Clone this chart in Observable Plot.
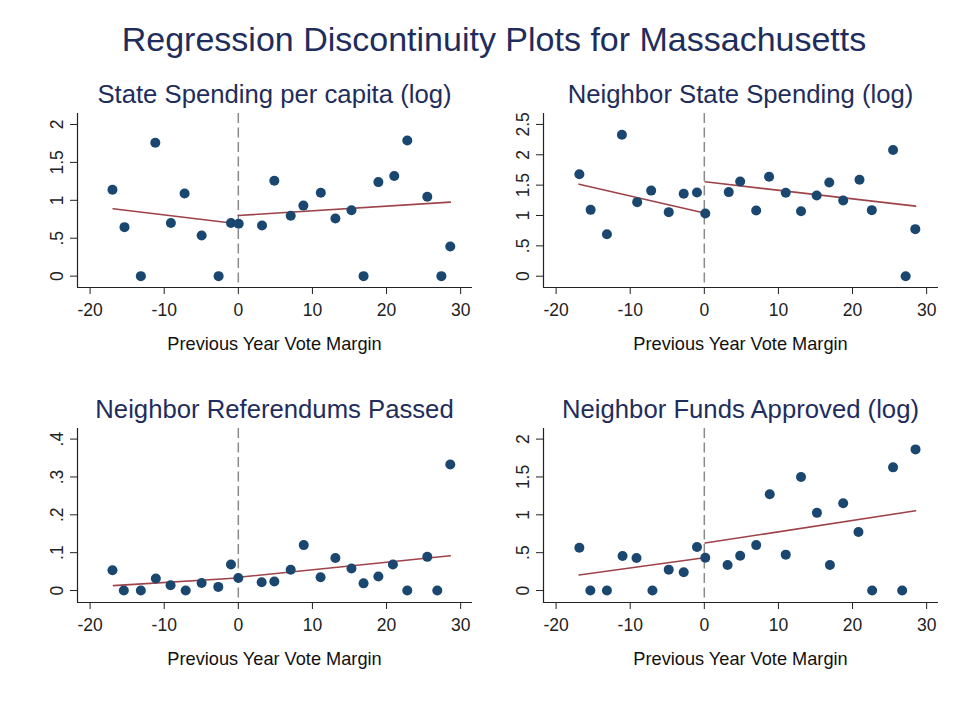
<!DOCTYPE html>
<html>
<head>
<meta charset="utf-8">
<script src="https://cdn.jsdelivr.net/npm/d3@7"></script>
<script src="https://cdn.jsdelivr.net/npm/@observablehq/plot@0.6"></script>
<style>
  html, body { margin: 0; padding: 0; background: #fff; }
  #wrap { position: relative; width: 964px; height: 704px; background: #fff; font-family: "Liberation Sans", Arial, sans-serif; }
  .txt { position: absolute; white-space: nowrap; text-align: center; line-height: 1; color: #1f2d5c; }
  .xl { color: #111; }
  .panel { position: absolute; }
</style>
</head>
<body>
<div id="wrap"></div>
<script>
// ---------- data ----------
const mainTitle = "Regression Discontinuity Plots for Massachusetts";
const xLabel = "Previous Year Vote Margin";
const xTicks = [-20, -10, 0, 10, 20, 30];

// Panel 1: State Spending per capita (log)
const p1Title = "State Spending per capita (log)";
const p1X = [-16.98, -15.36, -13.15, -11.2, -9.1, -7.25, -4.95, -2.66, -0.99, 0.05, 3.2, 4.86, 7.07, 8.78, 11.13, 13.1, 15.27, 16.9, 18.9, 21.04, 22.8, 25.5, 27.4, 28.6];
const p1Y = [1.14, 0.646, 0, 1.76, 0.70, 1.09, 0.536, 0, 0.70, 0.69, 0.668, 1.257, 0.796, 0.93, 1.10, 0.76, 0.87, 0, 1.24, 1.32, 1.79, 1.046, 0, 0.39];
const p1FitLeft = [[-16.9, 0.888], [-0.1, 0.69]];
const p1FitRight = [[0, 0.80], [28.6, 0.976]];
const p1YTicks = [0, 0.5, 1, 1.5, 2];
const p1YDomain = [-0.15, 2.145];

// Panel 2: Neighbor State Spending (log)
const p2Title = "Neighbor State Spending (log)";
const p2X = [-16.86, -15.34, -13.14, -11.12, -9.06, -7.17, -4.8, -2.78, -0.99, 0.13, 3.3, 4.84, 7.0, 8.74, 10.99, 13.05, 15.16, 16.86, 18.74, 20.94, 22.6, 25.47, 27.17, 28.47];
const p2Y = [1.68, 1.093, 0.692, 2.33, 1.22, 1.41, 1.055, 1.357, 1.38, 1.033, 1.385, 1.56, 1.082, 1.637, 1.374, 1.07, 1.33, 1.544, 1.247, 1.588, 1.088, 2.08, 0, 0.775];
const p2FitLeft = [[-16.9, 1.516], [0, 1.04]];
const p2FitRight = [[0.1, 1.555], [28.5, 1.154]];
const p2YTicks = [0, 0.5, 1, 1.5, 2, 2.5];
const p2YDomain = [-0.186, 2.68];

// Panel 3: Neighbor Referendums Passed
const p3Title = "Neighbor Referendums Passed";
const p3X = [-16.98, -15.45, -13.15, -11.13, -9.14, -7.1, -4.95, -2.7, -0.99, 0, 3.15, 4.86, 7.07, 8.83, 11.1, 13.1, 15.27, 16.9, 18.9, 20.86, 22.8, 25.5, 26.85, 28.6];
const p3Y = [0.0535, 0, 0, 0.0316, 0.014, 0, 0.020, 0.0096, 0.069, 0.033, 0.022, 0.024, 0.055, 0.120, 0.035, 0.086, 0.058, 0.019, 0.037, 0.069, 0, 0.089, 0, 0.333];
const p3FitLeft = [[-16.85, 0.013], [-0.1, 0.033]];
const p3FitRight = [[0, 0.035], [28.6, 0.092]];
const p3YTicks = [0, 0.1, 0.2, 0.3, 0.4];
const p3YDomain = [-0.0316, 0.428];

// Panel 4: Neighbor Funds Approved (log)
const p4Title = "Neighbor Funds Approved (log)";
const p4X = [-16.86, -15.38, -13.14, -11.03, -9.15, -7.0, -4.8, -2.78, -0.99, 0.13, 3.14, 4.84, 7.0, 8.83, 10.99, 13.05, 15.2, 16.95, 18.74, 20.8, 22.65, 25.47, 26.7, 28.5];
const p4Y = [0.566, 0, 0, 0.456, 0.43, 0, 0.276, 0.241, 0.575, 0.434, 0.338, 0.46, 0.60, 1.272, 0.474, 1.50, 1.026, 0.338, 1.153, 0.772, 0, 1.627, 0, 1.864];
const p4FitLeft = [[-16.9, 0.206], [0, 0.434]];
const p4FitRight = [[0.1, 0.627], [28.5, 1.053]];
const p4YTicks = [0, 0.5, 1, 1.5, 2];
const p4YDomain = [-0.158, 2.14];

// ---------- styling ----------
const xDomain = [-21.7, 31.6];
const dotColor = "#1a476f";
const fitColor = "#9e434a";
const axisColor = "#222";

const wrap = document.getElementById("wrap");

function addText(str, cls, left, width, top, size) {
  const d = document.createElement("div");
  d.className = "txt " + cls;
  d.textContent = str;
  d.style.left = left + "px";
  d.style.width = width + "px";
  d.style.top = top + "px";
  d.style.fontSize = size + "px";
  wrap.appendChild(d);
}

const fmtY = d => String(+d.toFixed(2)).replace(/^0\./, ".");
const fmtX = d => String(d);

function panel(cfg) {
  const W = 482, mT = 20, mB = 40, mL = 77, mR = 10, frameH = 174;
  const pts = cfg.x.map((v, i) => ({x: v, y: cfg.y[i]}));
  const fitL = cfg.fitL.map(([x, y]) => ({x, y}));
  const fitR = cfg.fitR.map(([x, y]) => ({x, y}));
  const chart = Plot.plot({
    width: W,
    height: frameH + mT + mB,
    marginTop: mT, marginBottom: mB, marginLeft: mL, marginRight: mR,
    style: {fontFamily: '"Liberation Sans", Arial, sans-serif', fontSize: "17.5px", color: axisColor, background: "transparent", overflow: "visible"},
    x: {domain: xDomain},
    y: {domain: cfg.yDomain},
    marks: [
      Plot.ruleX([0], {stroke: "#8a8a8a", strokeWidth: 1.5, strokeDasharray: "10,4.5"}),
      Plot.ruleY([cfg.yDomain[0]], {stroke: axisColor, strokeWidth: 1.2}),
      Plot.ruleX([xDomain[0]], {stroke: axisColor, strokeWidth: 1.2}),
      Plot.axisX({ticks: xTicks, tickSize: 7, tickPadding: 9, tickFormat: fmtX, label: null, fontSize: 17.5}),
      Plot.axisY({ticks: cfg.yTicks, tickSize: 7, tickPadding: 8, tickRotate: -90, tickFormat: fmtY, label: null, fontSize: 17.5}),
      Plot.line(fitL, {x: "x", y: "y", stroke: fitColor, strokeWidth: 1.6}),
      Plot.line(fitR, {x: "x", y: "y", stroke: fitColor, strokeWidth: 1.6}),
      Plot.dot(pts, {x: "x", y: "y", r: 5, fill: dotColor, stroke: "none"})
    ]
  });
  const box = document.createElement("div");
  box.className = "panel";
  box.style.left = cfg.left + "px";
  box.style.top = (cfg.frameTop - mT) + "px";
  box.appendChild(chart);
  wrap.appendChild(box);
  const cx = cfg.left + mL + (W - mL - mR) / 2;
  addText(cfg.title, "pt", cx - 240, 480, cfg.frameTop - 31.5, 25.7);
  addText(xLabel, "xl", cx - 200, 400, cfg.frameTop + 221.6, 18.2);
}

addText(mainTitle, "mt", 494 - 450, 900, 22.2, 34);

panel({title: p1Title, x: p1X, y: p1Y, fitL: p1FitLeft, fitR: p1FitRight, yTicks: p1YTicks, yDomain: p1YDomain, left: 0, frameTop: 113});
panel({title: p2Title, x: p2X, y: p2Y, fitL: p2FitLeft, fitR: p2FitRight, yTicks: p2YTicks, yDomain: p2YDomain, left: 466, frameTop: 113});
panel({title: p3Title, x: p3X, y: p3Y, fitL: p3FitLeft, fitR: p3FitRight, yTicks: p3YTicks, yDomain: p3YDomain, left: 0, frameTop: 428});
panel({title: p4Title, x: p4X, y: p4Y, fitL: p4FitLeft, fitR: p4FitRight, yTicks: p4YTicks, yDomain: p4YDomain, left: 466, frameTop: 428});
</script>
</body>
</html>
